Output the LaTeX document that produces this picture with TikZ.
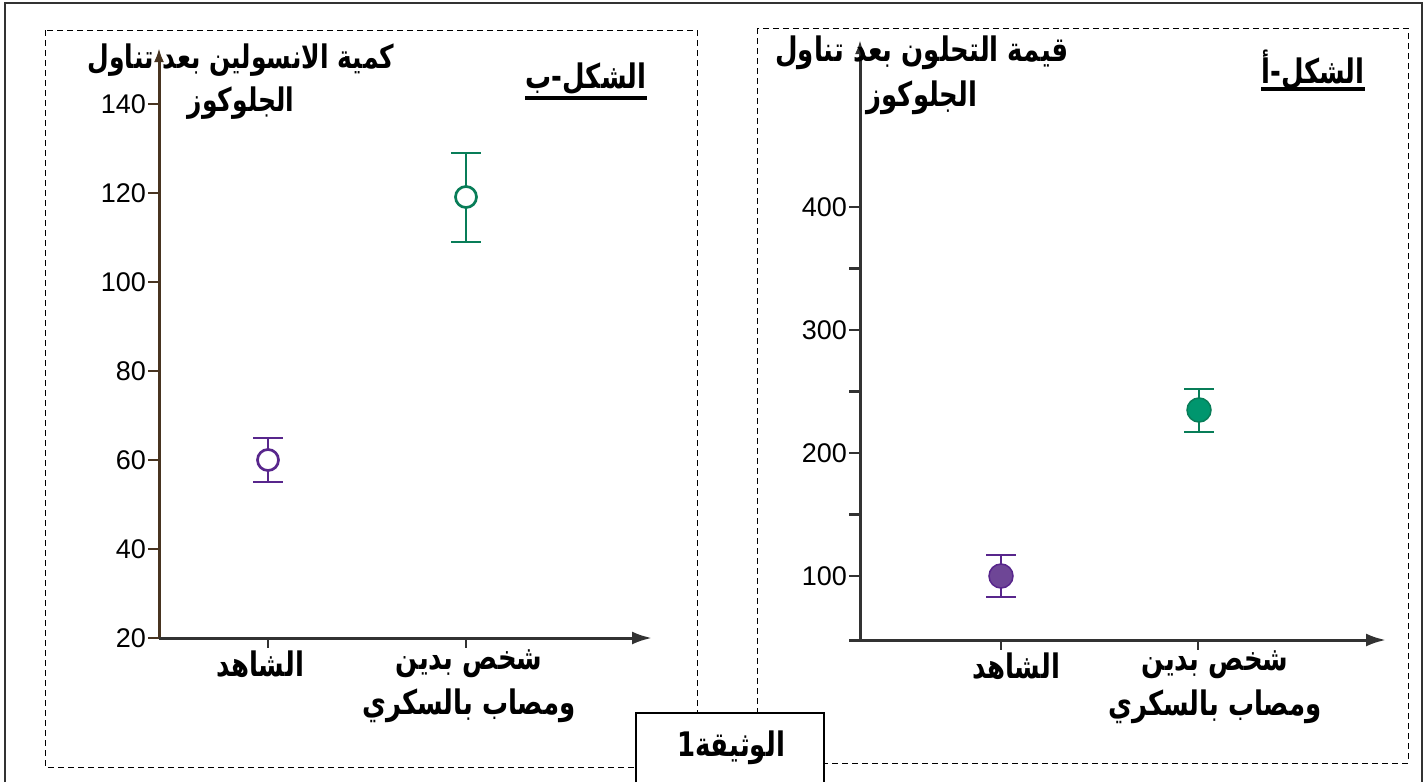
\documentclass[tikz,border=0pt]{standalone}
\usepackage{fontspec}
\setmainfont{Liberation Sans}
\newfontfamily\arabicfont[Script=Arabic]{DejaVu Sans}
\TeXXeTstate=1
\usetikzlibrary{arrows.meta, positioning, calc}

\definecolor{axisbrown}{RGB}{72,52,32}
\definecolor{axisgrey}{RGB}{50,50,50}
\definecolor{violetline}{RGB}{88,38,140}
\definecolor{violetfill}{RGB}{110,70,150}
\definecolor{greenline}{RGB}{8,125,88}
\definecolor{greenfill}{RGB}{0,150,110}

% one right-to-left line, a little taller than DejaVu draws it
\newcommand{\arline}[1]{\scalebox{1}[1.3]{\beginR #1\endR}}

\begin{document}
\begin{tikzpicture}[
  x=1pt, y=-1pt,
  panel/.style  = {draw, line width=1pt, dash pattern=on 6pt off 4pt},
  frame/.style  = {draw=axisgrey, line width=2pt},
  axisarrow/.style = {line width=3pt, -{Latex[length=20pt,width=13pt]}},
  yarrow/.style    = {line width=3pt, -{Latex[length=14pt,width=10pt]}},
  tickmark/.style  = {line width=2.5pt},
  numlabel/.style  = {font=\fontsize{27}{30}\selectfont, anchor=east, inner sep=2pt},
  arlabel/.style   = {font=\arabicfont\bfseries\fontsize{26}{45}\selectfont, align=center, inner sep=0pt},
  artitle/.style   = {font=\arabicfont\bfseries\fontsize{26}{30}\selectfont, inner sep=1pt},
  errbar/.style    = {line width=2.7pt},
  opendot/.style   = {circle, draw, line width=2.7pt, fill=white, minimum size=21pt, inner sep=0pt},
  fulldot/.style   = {circle, draw, line width=1.5pt, minimum size=24pt, inner sep=0pt}
]
  \useasboundingbox (0,0) rectangle (1427,782);

  % outer frame, open at the bottom
  \draw[frame] (5,782) -- (5,3) -- (1422,3) -- (1422,782);

  % the two dashed panels
  \draw[panel] (45,30) rectangle (697,767);
  \draw[panel] (757,28) rectangle (1408,763);

  % ---------- panel b (left) ----------
  \coordinate (bO) at (159,638);
  \coordinate (bY) at (159,48);
  \coordinate (bX) at (652,638);
  \draw[yarrow, draw=axisbrown] (bO) -- (bY);
  \draw[axisarrow, draw=axisgrey] (bO) -- (bX);

  % y ticks, 20 to 140
  \foreach \v in {20,40,...,140} {
    \coordinate (bt\v) at (159,{638-4.45*(\v-20)});
    \draw[tickmark, draw=axisbrown] (bt\v) -- ++(-11,0);
    \node[numlabel] (bn\v) at ($(bt\v)+(-11,0)$) {\v};
  }

  % category ticks
  \coordinate (bc1) at (268,638);
  \coordinate (bc2) at (466,638);
  \draw[tickmark, draw=axisgrey] (bc1) -- ++(0,10);
  \draw[tickmark, draw=axisgrey] (bc2) -- ++(0,10);

  % control: 60 (55 to 65)
  \coordinate (bv1lo) at (268,482);
  \coordinate (bv1hi) at (268,438);
  \draw[errbar, violetline] (bv1lo) -- (bv1hi);
  \draw[errbar, violetline] ($(bv1lo)+(-15,0)$) -- ($(bv1lo)+(15,0)$);
  \draw[errbar, violetline] ($(bv1hi)+(-15,0)$) -- ($(bv1hi)+(15,0)$);
  \node[opendot, draw=violetline] (bdot1) at (268,460) {};

  % obese diabetic: 119 (109 to 129)
  \coordinate (bv2lo) at (466,242);
  \coordinate (bv2hi) at (466,153);
  \draw[errbar, greenline] (bv2lo) -- (bv2hi);
  \draw[errbar, greenline] ($(bv2lo)+(-15,0)$) -- ($(bv2lo)+(15,0)$);
  \draw[errbar, greenline] ($(bv2hi)+(-15,0)$) -- ($(bv2hi)+(15,0)$);
  \node[opendot, draw=greenline] (bdot2) at (466,197) {};

  % labels
  \node[arlabel] (bcat1) at (260,664) {\arline{الشاهد}};
  \node[arlabel] (bcat2) at (469,686) {\arline{شخص بدين}\\\arline{ومصاب بالسكري}};
  \node[arlabel, font=\arabicfont\bfseries\fontsize{25}{43}\selectfont] (bylab) at (241,82) {\arline{كمية الانسولين بعد تناول}\\\arline{الجلوكوز}};
  \node[artitle] (btitle) at (586,79) {\arline{الشكل-ب}};
  \draw[line width=3.5pt] (525,98) -- (647,98);

  % ---------- panel a (right) ----------
  \coordinate (aO) at (860,640);
  \coordinate (aY) at (860,40);
  \coordinate (aX) at (1386,640);
  \draw[yarrow, draw=axisgrey] (aO) -- (aY);
  \draw[axisarrow, draw=axisgrey] ($(aO)+(-11,0)$) -- (aX);

  % y ticks, 100 to 400 with minor ones between
  \foreach \v in {100,150,...,400} {
    \coordinate (at\v) at (860,{576-1.23*(\v-100)});
    \draw[tickmark, draw=axisgrey] (at\v) -- ++(-11,0);
  }
  \foreach \v in {100,200,300,400}
    \node[numlabel] (an\v) at ($(at\v)+(-11,0)$) {\v};

  % category ticks
  \coordinate (ac1) at (1001,640);
  \coordinate (ac2) at (1198,640);
  \draw[tickmark, draw=axisgrey] (ac1) -- ++(0,10);
  \draw[tickmark, draw=axisgrey] (ac2) -- ++(0,10);

  % control: 100 (83 to 117)
  \coordinate (av1lo) at (1001,597);
  \coordinate (av1hi) at (1001,555);
  \draw[errbar, violetline] (av1lo) -- (av1hi);
  \draw[errbar, violetline] ($(av1lo)+(-15,0)$) -- ($(av1lo)+(15,0)$);
  \draw[errbar, violetline] ($(av1hi)+(-15,0)$) -- ($(av1hi)+(15,0)$);
  \node[fulldot, draw=violetline, fill=violetfill] (adot1) at (1001,576) {};

  % obese diabetic: 235 (217 to 251)
  \coordinate (av2lo) at (1199,432);
  \coordinate (av2hi) at (1199,389);
  \draw[errbar, greenline] (av2lo) -- (av2hi);
  \draw[errbar, greenline] ($(av2lo)+(-15,0)$) -- ($(av2lo)+(15,0)$);
  \draw[errbar, greenline] ($(av2hi)+(-15,0)$) -- ($(av2hi)+(15,0)$);
  \node[fulldot, draw=greenline, fill=greenfill] (adot2) at (1199,410) {};

  % labels
  \node[arlabel] (acat1) at (1016,666) {\arline{الشاهد}};
  \node[arlabel] (acat2) at (1215,687) {\arline{شخص بدين}\\\arline{ومصاب بالسكري}};
  \node[arlabel, font=\arabicfont\bfseries\fontsize{26}{45}\selectfont] (aylab) at (922,75) {\arline{قيمة التحلون بعد تناول}\\\arline{الجلوكوز}};
  \node[artitle] (atitle) at (1313,70) {\arline{الشكل-أ}};
  \draw[line width=3.5pt] (1261,89) -- (1365,89);

  % document box at the bottom
  \filldraw[fill=white, draw=black, line width=1.2pt] (636,782) -- (636,713) -- (824,713) -- (824,782);
  \node[artitle] (doc) at (731,748) {\arline{الوثيقة\beginL 1\endL}};
\end{tikzpicture}
\end{document}
